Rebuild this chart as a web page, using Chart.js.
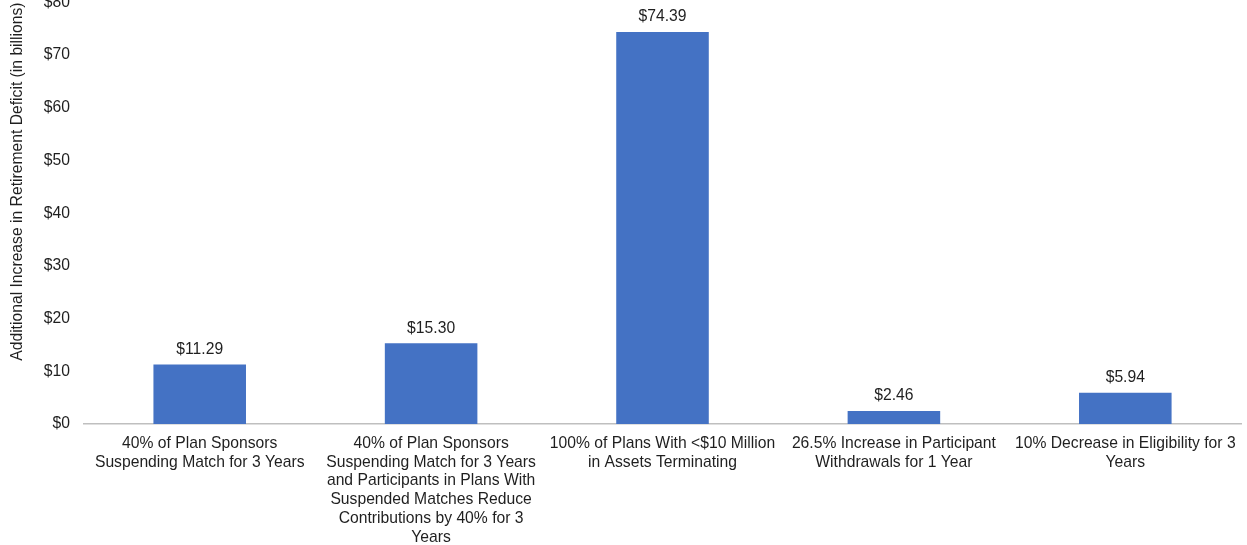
<!DOCTYPE html>
<html>
<head>
<meta charset="utf-8">
<script src="https://cdn.jsdelivr.net/npm/chart.js@4"></script>
<style>
    html, body { margin: 0; padding: 0; background: #fff; overflow: hidden; }
    #cadre { position: absolute; left: 0; top: -21px; width: 1247px; height: 578px; }
</style>
</head>
<body>
<div id="cadre"><canvas id="graphique-deficit"></canvas></div>
<script>
// Scénarios (libellés coupés en lignes comme dans l'original)
const scenarios = [
    ["40% of Plan Sponsors", "Suspending Match for 3 Years"],
    ["40% of Plan Sponsors", "Suspending Match for 3 Years", "and Participants in Plans With", "Suspended Matches Reduce", "Contributions by 40% for 3", "Years"],
    ["100% of Plans With <$10 Million", "in Assets Terminating"],
    ["26.5% Increase in Participant", "Withdrawals for 1 Year"],
    ["10% Decrease in Eligibility for 3", "Years"]
];
// Hausse du déficit de retraite, en milliards de dollars
const deficits = [11.29, 15.30, 74.39, 2.46, 5.94];
const titreAxeY = "Additional Increase in Retirement Deficit (in billions)";

const police = { family: "'Liberation Sans', Arial, sans-serif", size: 15.7 };
const couleurTexte = "#1f1f1f";

// Petit plugin maison pour écrire la valeur au-dessus de chaque barre
const etiquettesValeurs = {
    id: "etiquettesValeurs",
    afterDatasetsDraw(chart) {
        const ctx = chart.ctx;
        const meta = chart.getDatasetMeta(0);
        ctx.save();
        ctx.font = police.size + "px " + police.family;
        ctx.fillStyle = couleurTexte;
        ctx.textAlign = "center";
        ctx.textBaseline = "middle";
        meta.data.forEach((barre, i) => {
            ctx.fillText("$" + deficits[i].toFixed(2), barre.x, barre.y - 15);
        });
        ctx.restore();
    }
};

const data = {
    labels: scenarios,
    datasets: [{
        label: "Deficit",
        data: deficits,
        backgroundColor: "#4472C4",
        categoryPercentage: 1,
        barPercentage: 0.4
    }]
};

const config = {
    type: "bar",
    data: data,
    plugins: [etiquettesValeurs],
    options: {
        responsive: true,
        maintainAspectRatio: false,
        animation: false,
        layout: { padding: { left: 8, right: 6, top: 0, bottom: 0 } },
        plugins: {
            legend: { display: false },
            tooltip: { enabled: false }
        },
        scales: {
            x: {
                grid: { display: false, drawTicks: false },
                border: { display: true, color: "#bfbfbf", width: 1.5 },
                ticks: {
                    color: couleurTexte,
                    font: police,
                    maxRotation: 0,
                    autoSkip: false,
                    padding: 10
                }
            },
            y: {
                min: 0,
                max: 80,
                grid: { display: false, drawTicks: false },
                border: { display: false },
                ticks: {
                    stepSize: 10,
                    color: couleurTexte,
                    font: police,
                    padding: 14,
                    callback: v => "$" + v
                },
                title: {
                    display: true,
                    text: titreAxeY,
                    align: "end",
                    color: couleurTexte,
                    font: police,
                    padding: { top: 0, bottom: 3 }
                }
            }
        }
    }
};

const graphique = new Chart(document.getElementById("graphique-deficit"), config);
</script>
</body>
</html>
